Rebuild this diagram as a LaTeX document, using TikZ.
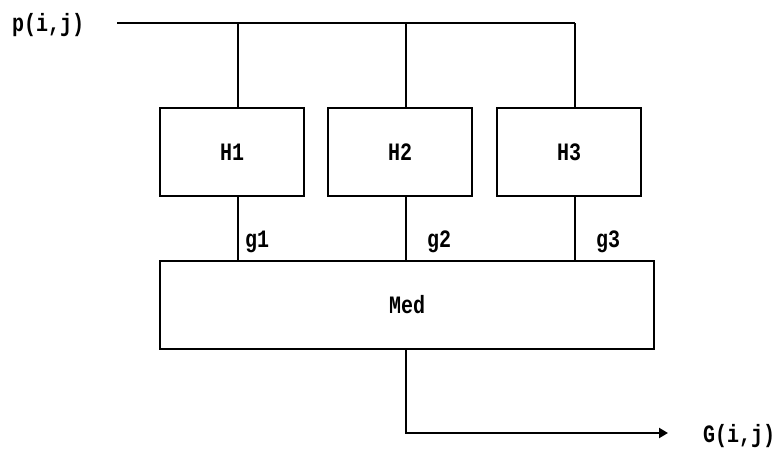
\documentclass[tikz,border=0pt]{standalone}
\usepackage{fontspec}
\usepackage{graphicx}
\setmainfont{Liberation Mono}
\usetikzlibrary{arrows.meta}
\newcommand{\tallt}[1]{\scalebox{1}[1.25]{\bfseries #1}}
\begin{document}
\begin{tikzpicture}[x=1pt,y=-1pt,
  wire/.style={line width=2.2pt},
  blk/.style={draw,line width=2.2pt,minimum width=144pt,minimum height=88pt,inner sep=0pt},
  lbl/.style={font=\fontsize{20}{20}\selectfont,inner sep=0pt}]
\useasboundingbox (0,0) rectangle (776,448);
\node[blk] (H1) at (232,152) {};
\node[lbl] at (H1.center) {\tallt{H1}};
\node[blk] (H2) at (400,152) {};
\node[lbl] at (H2.center) {\tallt{H2}};
\node[blk] (H3) at (569,152) {};
\node[lbl] at (H3.center) {\tallt{H3}};
\node[blk,minimum width=494pt] (Med) at (407,305) {};
\node[lbl] at (Med.center) {\tallt{Med}};
\node[lbl,anchor=west] (p) at (12,25) {\tallt{p(i,j)}};
\coordinate (s) at (117,23);
\coordinate (t1) at (238,23);
\coordinate (t2) at (406,23);
\coordinate (t3) at (575,23);
\coordinate (out) at (668,433);
\node[lbl,anchor=west] (G) at (703,436) {\tallt{G(i,j)}};
\draw[wire] (s) -- (t3);
\draw[wire] (t1) -- (t1 |- H1.north);
\draw[wire] (t2) -- (t2 |- H2.north);
\draw[wire] (t3) -- (t3 |- H3.north);
\draw[wire] (t1 |- H1.south) -- (t1 |- Med.north);
\draw[wire] (t2 |- H2.south) -- (t2 |- Med.north);
\draw[wire] (t3 |- H3.south) -- (t3 |- Med.north);
\node[lbl,anchor=west] (g1) at (245,242) {\tallt{g1}};
\node[lbl,anchor=west] (g2) at (427,242) {\tallt{g2}};
\node[lbl,anchor=west] (g3) at (596,242) {\tallt{g3}};
\draw[wire,-{Triangle[length=9pt,width=10pt]}] (Med.south -| t2) -- (t2 |- out) -- (out);
\end{tikzpicture}
\end{document}
